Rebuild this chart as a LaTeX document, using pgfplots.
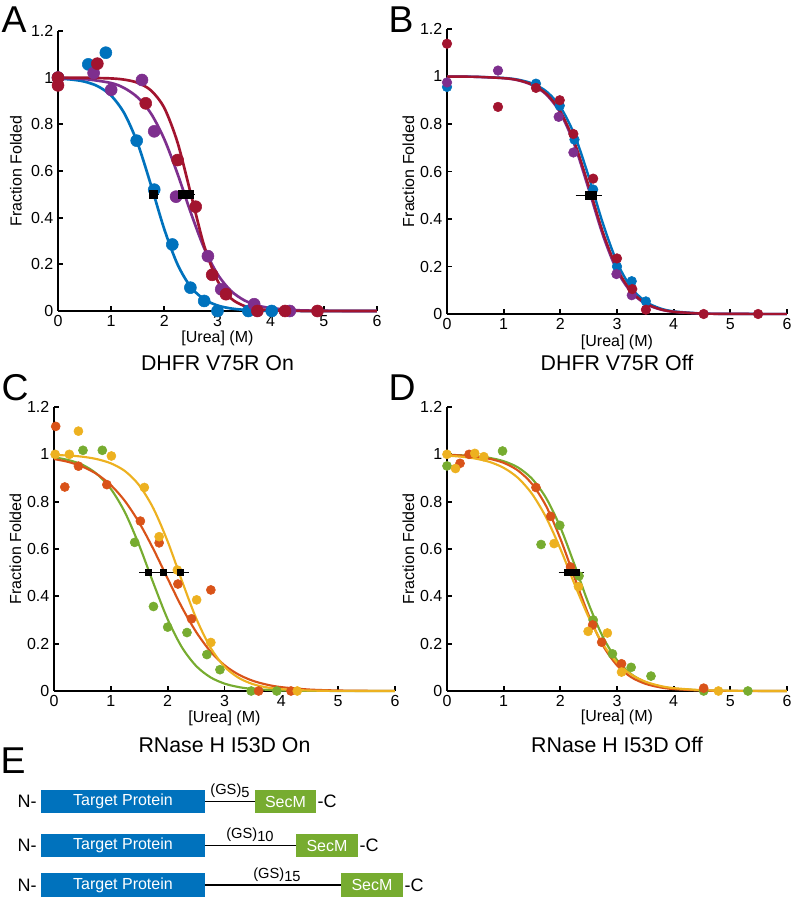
\documentclass[border=0pt]{standalone}
\usepackage{pgfplots}
\pgfplotsset{compat=1.18}
\usepackage{fontspec}
\setmainfont{Liberation Sans}
\definecolor{mblue}{HTML}{0072BD}
\definecolor{mpurple}{HTML}{7E2F8E}
\definecolor{mred}{HTML}{A2142F}
\definecolor{morange}{HTML}{D95319}
\definecolor{myellow}{HTML}{EDB120}
\definecolor{mgreen}{HTML}{77AC30}
\pgfplotsset{
 panel/.style={scale only axis, anchor=south west,
  xmin=0,xmax=6,ymin=0,ymax=1.2,
  axis x line*=bottom, axis y line*=left,
  xtick={0,1,2,3,4,5,6}, xticklabels={0,1,2,3,4,5,6},
  ytick={0,0.2,0.4,0.6,0.8,1,1.2}, yticklabels={0,0.2,0.4,0.6,0.8,1,1.2},
  clip=false,
  axis line style={line width=2pt,black},
  tick style={line width=1.3pt,black},
  major tick length=4pt, tick align=inside,
  tick label style={font=\fontsize{12}{14}\selectfont},
  /pgf/number format/assume math mode=true},
 pts/.style={only marks, mark=*, mark size=#1, mark options={draw=none}},
 fit/.style={no marks, line width=#1, smooth},
 ebar/.style={black, only marks, mark=square*, mark size=#1,
  error bars/.cd, x dir=both, x explicit,
  error bar style={line width=1pt, black},
  error mark options={line width=1pt, mark size=2.5pt, black}},
}
\newcommand{\lab}[1]{\fontsize{12}{14}\selectfont #1}
\newcommand{\ttl}[1]{\fontsize{16}{18}\selectfont #1}
\begin{document}
\begin{tikzpicture}
\path[use as bounding box] (0,0) rectangle (597pt,672.75pt);
% ---------------- A
\begin{axis}[panel, at={(43.5pt,439.5pt)}, width=239.25pt, height=210pt]
\addplot[mblue, pts=4.5pt] coordinates {(0,1.0)(0.57,1.057)(0.90,1.107)(1.48,0.73)(1.81,0.52)(2.15,0.285)(2.49,0.10)(2.75,0.043)(3.0,0.0)(3.58,0)(4.02,0)};
\addplot[mblue, fit=2pt] coordinates {(0,0.996)(0.25,0.992)(0.5,0.983)(0.75,0.963)(1.0,0.923)(1.25,0.846)(1.5,0.717)(1.75,0.539)(2.0,0.350)(2.25,0.199)(2.5,0.102)(2.75,0.050)(3.0,0.0237)(3.25,0.011)(3.5,0.005)(3.75,0.0024)(4,0.001)(5,0)(6,0)};
\addplot[mpurple, pts=4.5pt] coordinates {(0,1.0)(0.67,1.02)(1.0,0.948)(1.58,0.99)(1.81,0.77)(2.22,0.49)(2.82,0.235)(3.07,0.093)(3.69,0.029)(4.36,0)};
\addplot[mpurple, fit=2pt] coordinates {(0,0.998)(0.5,0.994)(1.0,0.977)(1.25,0.955)(1.5,0.915)(1.75,0.846)(2.0,0.736)(2.25,0.587)(2.5,0.420)(2.75,0.269)(3.0,0.158)(3.25,0.087)(3.5,0.0463)(3.75,0.0241)(4.0,0.0125)(4.5,0.0033)(5,0.0009)(5.5,0.0002)(6,0)};
\addplot[mred, pts=4.5pt] coordinates {(0,1.0)(0,0.967)(0.74,1.06)(1.65,0.89)(2.25,0.647)(2.59,0.447)(2.9,0.155)(3.16,0.072)(3.75,0)(4.27,0)(4.88,0)};
\addplot[mred, fit=2pt] coordinates {(0,1.0)(0.5,0.9995)(1.0,0.9967)(1.25,0.9914)(1.5,0.978)(1.75,0.945)(2.0,0.870)(2.25,0.721)(2.5,0.5)(2.75,0.279)(3.0,0.130)(3.25,0.0547)(3.5,0.0219)(3.75,0.0086)(4.0,0.0033)(4.5,0.0005)(5,0.0001)(6,0)};
\addplot[ebar=3pt] coordinates {(1.8,0.5) +- (0.03,0) (2.33,0.5) +- (0.04,0) (2.47,0.5) +- (0.04,0)};
\node[rotate=90] at ([xshift=-31.5pt]rel axis cs:0,0.5) {\lab{Fraction Folded}};
\node at ([yshift=-20.25pt]rel axis cs:0.5,0) {\lab{[Urea] (M)}};
\node at ([yshift=-39pt]rel axis cs:0.5,0) {\ttl{DHFR V75R On}};
\end{axis}
% ---------------- B
\begin{axis}[panel, at={(335.25pt,437.25pt)}, width=255pt, height=213.75pt]
\addplot[mblue, pts=3.6pt] coordinates {(0,0.956)(1.57,0.97)(1.99,0.877)(2.25,0.734)(2.58,0.524)(3.0,0.20)(3.26,0.138)(3.51,0.053)};
\addplot[mblue, fit=1.8pt] coordinates {(0,0.9998)(0.5,0.9988)(1.0,0.994)(1.25,0.987)(1.5,0.971)(1.75,0.938)(2.0,0.872)(2.25,0.754)(2.5,0.579)(2.75,0.382)(3.0,0.218)(3.25,0.111)(3.5,0.053)(3.75,0.0246)(4.0,0.0112)(4.5,0.0023)(5,0.0005)(6,0)};
\addplot[mpurple, pts=3.6pt] coordinates {(0,0.975)(0.90,1.025)(1.97,0.83)(2.23,0.68)(2.99,0.168)(3.26,0.079)};
\addplot[mpurple, fit=1.8pt] coordinates {(0,0.9997)(0.5,0.9985)(1.0,0.9926)(1.25,0.984)(1.5,0.964)(1.75,0.924)(2.0,0.846)(2.25,0.711)(2.5,0.525)(2.75,0.332)(3.0,0.182)(3.25,0.0911)(3.5,0.0431)(3.75,0.0198)(4.0,0.009)(4.5,0.0018)(5,0.0004)(6,0)};
\addplot[mred, pts=3.6pt] coordinates {(0,1.138)(0.90,0.872)(1.57,0.952)(1.99,0.90)(2.23,0.758)(2.58,0.57)(3.0,0.234)(3.27,0.105)(3.51,0.018)(4.53,0)(5.49,0)};
\addplot[mred, fit=1.8pt] coordinates {(0,0.9997)(0.5,0.9986)(1.0,0.993)(1.25,0.985)(1.5,0.966)(1.75,0.928)(2.0,0.853)(2.25,0.723)(2.5,0.540)(2.75,0.345)(3.0,0.192)(3.25,0.0962)(3.5,0.0457)(3.75,0.0211)(4.0,0.0096)(4.5,0.0019)(5,0.0004)(6,0)};
\addplot[ebar=2.8pt] coordinates {(2.5,0.5) +- (0.17,0) (2.53,0.5) +- (0.05,0) (2.56,0.5) +- (0.05,0)};
\node[rotate=90] at ([xshift=-29pt]rel axis cs:0,0.5) {\lab{Fraction Folded}};
\node at ([yshift=-21pt]rel axis cs:0.5,0) {\lab{[Urea] (M)}};
\node at ([yshift=-37pt]rel axis cs:0.5,0) {\ttl{DHFR V75R Off}};
\end{axis}
% ---------------- C
\begin{axis}[panel, at={(40.5pt,154.5pt)}, width=255.75pt, height=213pt]
\addplot[mgreen, pts=3.4pt] coordinates {(0.51,1.017)(0.85,1.017)(1.42,0.628)(1.75,0.357)(2.0,0.27)(2.34,0.247)(2.69,0.154)(2.92,0.09)(3.47,0)(3.92,0)};
\addplot[mgreen, fit=1.6pt] coordinates {(0,0.9875)(0.25,0.976)(0.5,0.956)(0.75,0.918)(1.0,0.854)(1.25,0.754)(1.5,0.615)(1.75,0.455)(2.0,0.303)(2.25,0.185)(2.5,0.106)(2.75,0.0583)(3.0,0.0313)(3.25,0.0166)(3.5,0.0087)(4.0,0.0024)(4.5,0.0007)(5,0.0002)(6,0)};
\addplot[morange, pts=3.4pt] coordinates {(0.03,1.118)(0.19,0.862)(0.43,0.95)(0.93,0.872)(1.52,0.718)(1.85,0.626)(2.18,0.452)(2.42,0.305)(2.76,0.427)(3.6,0)(4.17,0)};
\addplot[morange, fit=1.6pt] coordinates {(0,0.980)(0.25,0.968)(0.5,0.948)(0.75,0.917)(1.0,0.870)(1.25,0.802)(1.5,0.711)(1.75,0.599)(2.0,0.475)(2.25,0.354)(2.5,0.250)(2.75,0.168)(3.0,0.109)(3.25,0.0691)(3.5,0.0431)(3.75,0.0266)(4.0,0.0163)(4.5,0.0061)(5,0.0022)(5.5,0.0008)(6,0.0003)};
\addplot[myellow, pts=3.4pt] coordinates {(0.02,1.0)(0.27,1.0)(0.43,1.098)(1.01,0.993)(1.59,0.86)(1.85,0.652)(2.17,0.511)(2.51,0.385)(2.76,0.205)(4.28,0)};
\addplot[myellow, fit=1.6pt] coordinates {(0,0.997)(0.25,0.995)(0.5,0.990)(0.75,0.980)(1.0,0.962)(1.25,0.929)(1.5,0.869)(1.75,0.771)(2.0,0.632)(2.25,0.466)(2.5,0.308)(2.75,0.185)(3.0,0.103)(3.25,0.0555)(3.5,0.029)(3.75,0.015)(4.0,0.0077)(4.5,0.002)(5,0.0005)(6,0)};
\addplot[ebar=2.3pt] coordinates {(1.66,0.5) +- (0.1,0) (1.93,0.5) +- (0.1,0) (2.22,0.5) +- (0.09,0)};
\node[rotate=90] at ([xshift=-29pt]rel axis cs:0,0.5) {\lab{Fraction Folded}};
\node at ([yshift=-20.25pt]rel axis cs:0.5,0) {\lab{[Urea] (M)}};
\node at ([yshift=-40.5pt]rel axis cs:0.5,0) {\ttl{RNase H I53D On}};
\end{axis}
% ---------------- D
\begin{axis}[panel, at={(335.25pt,154.5pt)}, width=255pt, height=213pt]
\addplot[mgreen, pts=3.4pt] coordinates {(0,0.951)(0.98,1.014)(1.66,0.619)(1.99,0.70)(2.33,0.486)(2.58,0.30)(2.92,0.157)(3.25,0.10)(3.6,0.063)(4.53,0)(5.31,0)};
\addplot[mgreen, fit=1.6pt] coordinates {(0,0.998)(0.25,0.996)(0.5,0.992)(0.75,0.985)(1.0,0.971)(1.25,0.945)(1.5,0.897)(1.75,0.815)(2.0,0.692)(2.25,0.534)(2.5,0.368)(2.75,0.229)(3.0,0.131)(3.25,0.0714)(3.5,0.0377)(3.75,0.0195)(4.0,0.0100)(4.5,0.0026)(5,0.0007)(6,0)};
\addplot[morange, pts=3.4pt] coordinates {(0.23,0.962)(0.39,1.0)(1.57,0.86)(1.83,0.738)(2.18,0.524)(2.57,0.279)(2.73,0.206)(3.08,0.115)(4.53,0.012)};
\addplot[morange, fit=1.6pt] coordinates {(0,0.9975)(0.25,0.995)(0.5,0.990)(0.75,0.981)(1.0,0.964)(1.25,0.932)(1.5,0.875)(1.75,0.781)(2.0,0.644)(2.25,0.480)(2.5,0.320)(2.75,0.193)(3.0,0.1085)(3.25,0.0584)(3.5,0.0306)(3.75,0.0158)(4.0,0.0081)(4.5,0.0021)(5,0.0005)(6,0)};
\addplot[myellow, pts=3.4pt] coordinates {(0,1.0)(0.15,0.94)(0.49,1.004)(0.65,0.99)(1.89,0.623)(2.32,0.441)(2.49,0.252)(2.83,0.245)(3.08,0.08)(4.79,0)};
\addplot[myellow, fit=1.6pt] coordinates {(0,0.9946)(0.25,0.990)(0.5,0.982)(0.75,0.968)(1.0,0.943)(1.25,0.901)(1.5,0.833)(1.75,0.733)(2.0,0.601)(2.25,0.452)(2.5,0.312)(2.75,0.199)(3.0,0.120)(3.25,0.0697)(3.5,0.0395)(3.75,0.0221)(4.0,0.0122)(4.5,0.0037)(5,0.0011)(5.5,0.0003)(6,0.0001)};
\addplot[ebar=2.3pt] coordinates {(2.13,0.5) +- (0.1,0) (2.2,0.5) +- (0.08,0) (2.28,0.5) +- (0.08,0)};
\node[rotate=90] at ([xshift=-29pt]rel axis cs:0,0.5) {\lab{Fraction Folded}};
\node at ([yshift=-19.5pt]rel axis cs:0.5,0) {\lab{[Urea] (M)}};
\node at ([yshift=-40.5pt]rel axis cs:0.5,0) {\ttl{RNase H I53D Off}};
\end{axis}
% ---------------- panel letters
\node at (10.5pt,657.75pt) {\fontsize{28}{30}\selectfont A};
\node at (300.75pt,657.75pt) {\fontsize{28}{30}\selectfont B};
\node at (11.25pt,381.75pt) {\fontsize{28}{30}\selectfont C};
\node at (301.5pt,381.75pt) {\fontsize{28}{30}\selectfont D};
\node at (9.75pt,102pt) {\fontsize{28}{30}\selectfont E};
% ---------------- E schematic
\newcommand{\construct}[6]{% y-bottom, y-top, green-left, green-right, label x, label
  \fill[mblue] (31pt,#1) rectangle (153.5pt,#2);
  \node[white] at (92.25pt,{(#1+#2)/2}) {\fontsize{12}{14}\selectfont Target Protein};
  \draw[line width=0.8pt] (153.5pt,{(#1+#2)/2}) -- (#3,{(#1+#2)/2});
  \fill[mgreen] (#3,#1) rectangle (#4,#2);
  \node[white] at ({(#3+#4)/2},{(#1+#2)/2}) {\fontsize{12}{14}\selectfont SecM};
  \node[anchor=east] at (31pt,{(#1+#2)/2}) {\fontsize{13.5}{15}\selectfont N-};
  \node[anchor=west, inner sep=1pt] at (#4,{(#1+#2)/2}) {\fontsize{13.5}{15}\selectfont -C};
  \node[anchor=south, inner sep=1pt] at (#5,{(#1+#2)/2+1.5pt}) {\fontsize{11}{13}\selectfont #6};
}
\construct{63pt}{80.25pt}{191.25pt}{237pt}{172.5pt}{(GS)\raisebox{-0.35ex}{\fontsize{11}{13}\selectfont 5}}
\construct{30pt}{47.25pt}{222pt}{268.5pt}{187.5pt}{(GS)\raisebox{-0.35ex}{\fontsize{11}{13}\selectfont 10}}
\construct{0pt}{18pt}{255.75pt}{302.25pt}{207.75pt}{(GS)\raisebox{-0.35ex}{\fontsize{11}{13}\selectfont 15}}
\end{tikzpicture}
\end{document}
